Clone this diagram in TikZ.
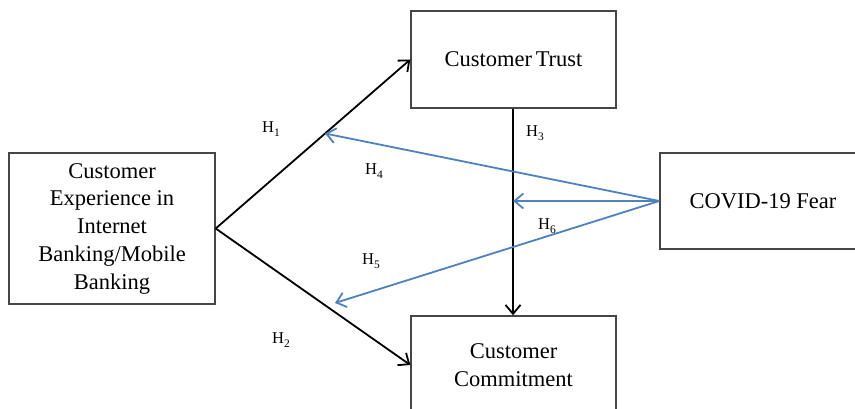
\documentclass[tikz,border=0pt]{standalone}
\usepackage{fontspec}
\setmainfont{Liberation Serif}
\usetikzlibrary{arrows.meta,calc}
\definecolor{linkblue}{RGB}{79,129,189}
\definecolor{boxgrey}{RGB}{70,70,70}
\newcommand{\hyp}[1]{H\raisebox{-3.5pt}{\fontsize{11.5}{12}\selectfont #1}}
\tikzset{
  box/.style={draw=boxgrey,line width=1.4pt,align=center,inner sep=0pt,
    font=\fontsize{22.5}{27.75}\selectfont},
  blackarrow/.style={draw=black,line width=1.8pt,-{Straight Barb[length=9pt,width=15pt,line width=1.8pt]}},
  bluearrow/.style={draw=linkblue,line width=1.8pt,-{Straight Barb[length=9pt,width=15pt,line width=1.8pt]}},
  hlabel/.style={inner sep=0pt,font=\fontsize{16.5}{18}\selectfont}
}
\begin{document}
\begin{tikzpicture}[x=1pt,y=-1pt]
\clip (0,0) rectangle (855,409);
\node[box,minimum width=206pt,minimum height=151pt] (left) at (112,228.5)
  {Customer\\Experience in\\Internet\\Banking/Mobile\\Banking};
\node[box,minimum width=205pt,minimum height=97pt] (trust) at (513.5,59.5) {Customer\,Trust};
\node[box,minimum width=206pt,minimum height=96pt] (fear) at (763,201) {COVID-19 Fear};
\node[box,minimum width=205pt,minimum height=98pt] (commit) at (513.5,365) {Customer\\Commitment};
\coordinate (h1end) at ($(left.east)!0.562!(trust.west)$);
\coordinate (h5end) at (335,303);
\coordinate (h3start) at ([xshift=-0.5pt]trust.south);
\coordinate (h3end) at ([xshift=-0.5pt]commit.north);
\coordinate (h6end) at (h3start |- fear.west);
\draw[blackarrow] (left.east) -- (trust.west);
\draw[blackarrow] (left.east) -- (commit.west);
\draw[blackarrow] (h3start) -- (h3end);
\draw[bluearrow] (fear.west) -- (h1end);
\draw[bluearrow] (fear.west) -- (h6end);
\draw[bluearrow] (fear.west) -- (h5end);
\node[hlabel] (l1) at (271,129) {\hyp{1}};
\node[hlabel] (l2) at (281,340) {\hyp{2}};
\node[hlabel] (l3) at (535,133) {\hyp{3}};
\node[hlabel] (l4) at (374,171) {\hyp{4}};
\node[hlabel] (l5) at (371,261) {\hyp{5}};
\node[hlabel] (l6) at (547,226) {\hyp{6}};
\end{tikzpicture}
\end{document}
